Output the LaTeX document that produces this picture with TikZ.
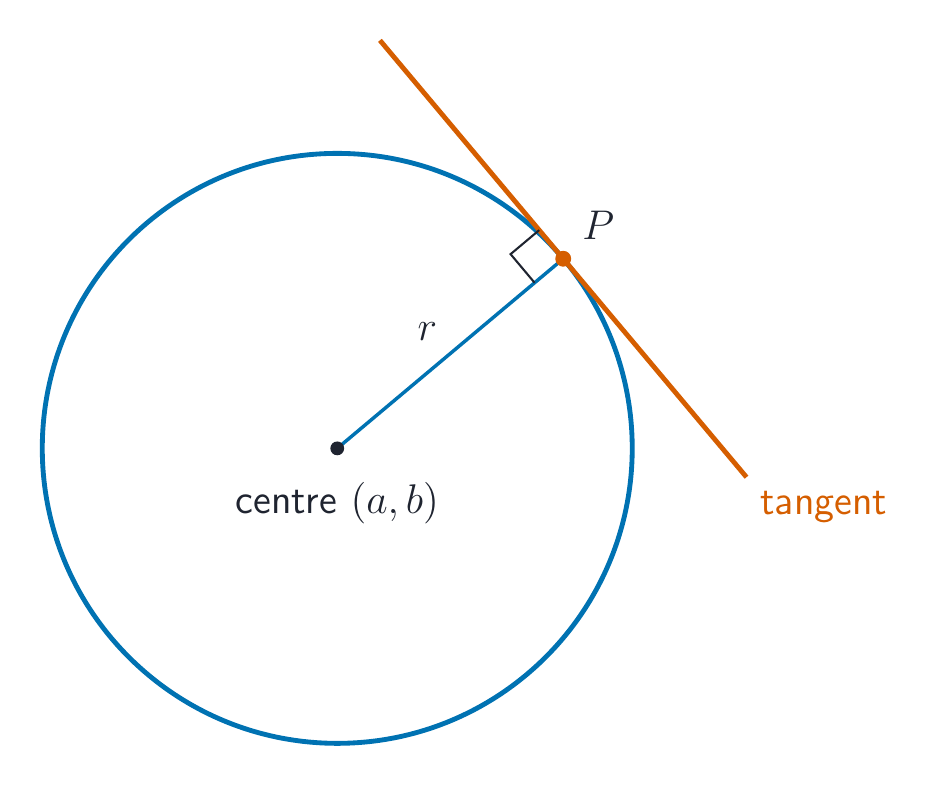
\documentclass[tikz,border=0pt]{standalone}
\usepackage{fontspec}
\usetikzlibrary{calc}
\definecolor{circblue}{HTML}{0072B2}
\definecolor{tanorange}{HTML}{D55E00}
\definecolor{ink}{HTML}{1F2430}

\begin{document}
\begin{tikzpicture}
      [font = \fontsize{11.8}{14}\selectfont\sffamily,
      circ/.style = {circblue, line width = 1.4pt},
      tan/.style = {tanorange, line width = 1.4pt},
      rad/.style = {circblue, line width = 1pt},
      rightangle/.style = {ink, line width = 0.6pt},
      dot/.style= {
         fill = ink,
         circle,
         inner sep = 0pt,
         minimum size = 4pt
      },
      point/.style= {
         fill = tanorange,
         circle,
         inner sep = 0pt,
         minimum size = 4.6pt
      }]
      \useasboundingbox (-3.43, -3.44) rectangle (6.13, 4.56);

      \pgfmathsetmacro{\radius}{3}
      \pgfmathsetmacro{\angle}{40}
      \pgfmathsetmacro{\side}{0.38}
      \coordinate (C) at (0, 0);
      \coordinate (P) at (\angle:\radius);
      \coordinate (t1) at ($(P)+(\angle+90:2.9)$);
      \coordinate (t2) at ($(P)+(\angle-90:2.9)$);

      \draw[circ] (C) circle(\radius);
      \draw[tan] (t1) -- (t2) node[below right] (tanlabel) {tangent};
      \draw[rad] (C) -- (P) node[midway, above left, ink] (rlabel) {$r$};

      % right angle at P
      \coordinate (m1) at ($(P)+(\angle+90:\side)$);
      \coordinate (m2) at ($(P)+(\angle+180:\side)$);
      \draw[rightangle] (m1) -- ($(m1)+(m2)-(P)$) -- (m2);

      \draw (C) node[dot] (centre) {};
      \node[ink] (centrelabel) at ($(C)+(0,-0.56)$) {centre $(a,b)$};
      \draw (P) node[point] (tangentpoint) {};
      \node[ink, above right, xshift = 2pt, yshift = 2pt] (plabel) at (P) {$P$};

   \end{tikzpicture}
\end{document}
